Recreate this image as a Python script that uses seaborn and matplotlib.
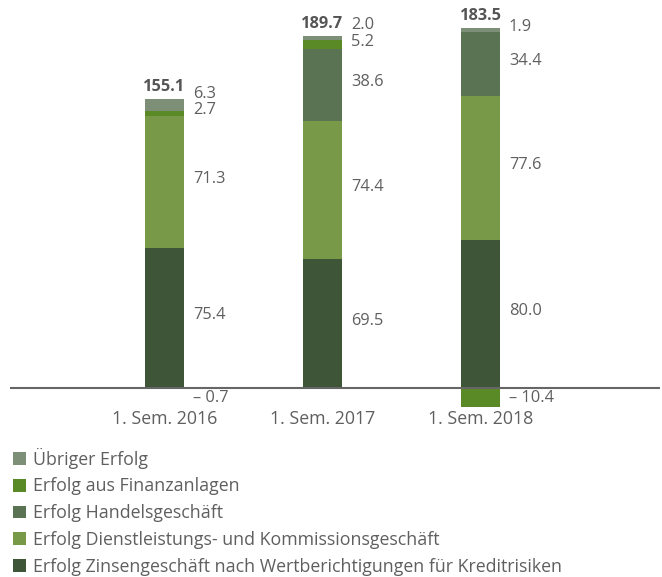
import matplotlib

matplotlib.use("Agg")

import matplotlib.pyplot as plt
import numpy as np
import pandas as pd
import seaborn as sns
from matplotlib.patches import Patch


periods = ["1. Sem. 2016", "1. Sem. 2017", "1. Sem. 2018"]
totals = [155.1, 189.7, 183.5]

# stacked from bottom to top
series_names = [
    "Erfolg Zinsengeschäft nach Wertberichtigungen für Kreditrisiken",
    "Erfolg Dienstleistungs- und Kommissionsgeschäft",
    "Erfolg Handelsgeschäft",
    "Erfolg aus Finanzanlagen",
    "Übriger Erfolg",
]
zinsen = [75.4, 69.5, 80.0]
dienstleistung = [71.3, 74.4, 77.6]
handel = [-0.7, 38.6, 34.4]
finanzanlagen = [2.7, 5.2, -10.4]
uebriger = [6.3, 2.0, 1.9]

colors = ["#3e5538", "#789a48", "#5a7352", "#5a8a26", "#7e8f77"]
TEXT = "#5f5f5f"

sns.set_style("white")
plt.rcParams["font.family"] = ["Open Sans", "DejaVu Sans"]

fig = plt.figure(figsize=(6.62, 5.77), dpi=100)
ax = fig.add_axes([10 / 662, 170.4 / 577, 650 / 662, 389.8 / 577])

values = np.array([zinsen, dienstleistung, handel, finanzanlagen, uebriger])
pos_base = np.zeros(len(periods))
neg_base = np.zeros(len(periods))
label_pos = [[] for _ in periods]

for name, vals, color in zip(series_names, values, colors):
    vals = np.asarray(vals)
    bottom = np.where(vals >= 0, pos_base, neg_base)
    df = pd.DataFrame({"period": periods, "value": vals})
    sns.barplot(
        data=df,
        x="period",
        y="value",
        order=periods,
        bottom=bottom,
        color=color,
        saturation=1,
        width=0.247,
        errorbar=None,
        linewidth=0,
        ax=ax,
    )
    for i, v in enumerate(vals):
        label_pos[i].append((bottom[i] + v / 2, v))
    pos_base = np.where(vals >= 0, pos_base + vals, pos_base)
    neg_base = np.where(vals < 0, neg_base + vals, neg_base)

# value labels, pushed apart where segments are thin
for i, items in enumerate(label_pos):
    prev = None
    for centre, v in items:
        if v < 0:
            y = min(centre, -5.3)
            txt = f"\u2013 {abs(v):.1f}"
        else:
            y = centre + 1.5
            if prev is not None and y < prev + 9:
                y = prev + 9
            prev = y
            txt = f"{v:.1f}"
        ax.text(i + 0.18, y, txt, ha="left", va="center", fontsize=11.8, color=TEXT, clip_on=False)
    ax.text(i, pos_base[i] + 6.6, f"{totals[i]:.1f}", ha="center", va="center",
            fontsize=11.8, fontweight="bold", color="#555555", clip_on=False)

ax.set_xlim(-0.978, 3.136)
ax.set_ylim(-10, 200)
ax.axhline(0, color="#666666", linewidth=1.5, zorder=5)
ax.set_yticks([])
ax.set_xlabel("")
ax.set_ylabel("")
ax.set_xticks(range(len(periods)))
ax.set_xticklabels(periods)
ax.tick_params(axis="x", length=0, labelsize=12.8, labelcolor=TEXT, pad=2.5)
sns.despine(ax=ax, left=True, bottom=True)

handles = [Patch(facecolor=c, edgecolor="none") for c in colors[::-1]]
fig.legend(
    handles,
    series_names[::-1],
    loc="upper left",
    bbox_to_anchor=(0.004, 1 - 437 / 577),
    frameon=False,
    fontsize=12.8,
    labelcolor=TEXT,
    handlelength=0.72,
    handleheight=0.72,
    handletextpad=0.38,
    labelspacing=0.49,
    borderaxespad=0.3,
    borderpad=0.3,
)

fig.savefig("out.png", dpi=100)
